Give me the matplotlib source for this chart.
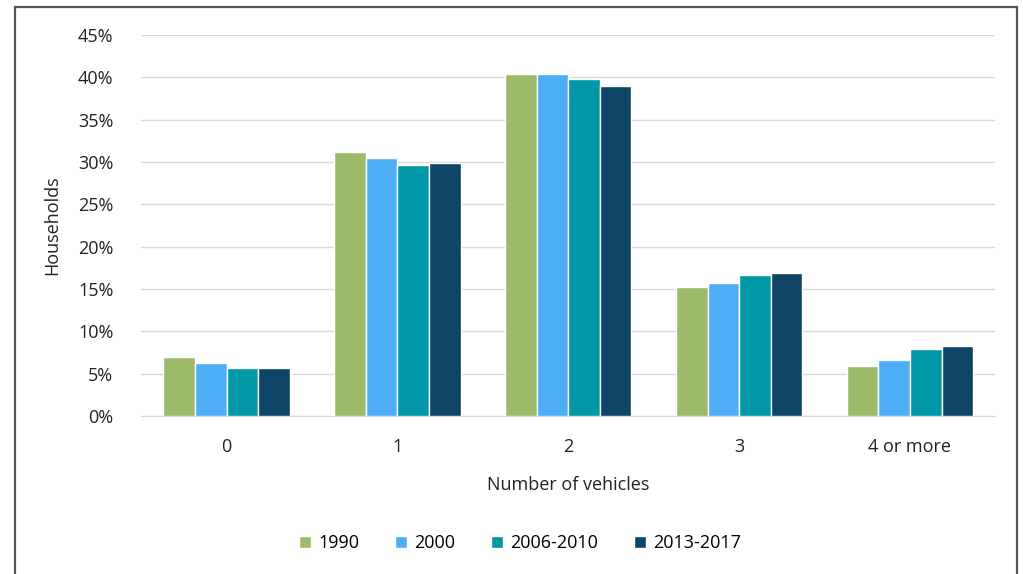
import matplotlib.pyplot as plt
from matplotlib.patches import Rectangle
import numpy as np

plt.rcParams["font.family"] = ["Open Sans", "DejaVu Sans"]

categories = ["0", "1", "2", "3", "4 or more"]
series = ["1990", "2000", "2006-2010", "2013-2017"]
v1990 = [6.95, 31.2, 40.4, 15.2, 5.9]
v2000 = [6.25, 30.5, 40.4, 15.7, 6.6]
v2006 = [5.65, 29.6, 39.75, 16.7, 7.9]
v2013 = [5.65, 29.85, 39.0, 16.9, 8.3]
colors = ["#9bbb6a", "#4daef5", "#0097a7", "#0e4466"]

fig = plt.figure(figsize=(10.23, 5.74), dpi=100)
ax = fig.add_axes([0.138, 0.275, 0.835, 0.664])

x = np.arange(len(categories))
w = 0.185
for i, (vals, name) in enumerate(zip([v1990, v2000, v2006, v2013], series)):
    ax.bar(x + (i - 1.5) * w, vals, w, color=colors[i], edgecolor="white",
           linewidth=1, label=name, zorder=3)

ax.set_xlim(-0.5, 4.5)
ax.set_ylim(0, 45)
ax.set_yticks(range(0, 50, 5))
ax.set_yticklabels([f"{t}%" for t in range(0, 50, 5)])
ax.set_xticks(x)
ax.set_xticklabels(categories)
ax.tick_params(axis="both", length=0, labelsize=13, colors="#222222")
ax.tick_params(axis="x", pad=16)
ax.tick_params(axis="y", pad=20)
ax.grid(axis="y", color="#d9d9d9", linewidth=1, zorder=0)
for s in ["top", "right", "left"]:
    ax.spines[s].set_visible(False)
ax.spines["bottom"].set_color("#d9d9d9")

ax.set_xlabel("Number of vehicles", fontsize=13, labelpad=14, color="#222222")
ax.set_ylabel("Households", fontsize=13, labelpad=12, color="#222222")

ax.legend(loc="center", bbox_to_anchor=(520 / 1023, 1 - 543 / 574),
          bbox_transform=fig.transFigure, ncol=4, frameon=False, fontsize=13,
          handlelength=0.65, handleheight=0.65, columnspacing=2.0, handletextpad=0.4)

fig.patches.append(Rectangle((15 / 1023, -0.05), 1002 / 1023, 1.05 - 7 / 574,
                             transform=fig.transFigure, fill=False,
                             edgecolor="#555555", linewidth=1.6))

plt.savefig("out.png", dpi=100)
